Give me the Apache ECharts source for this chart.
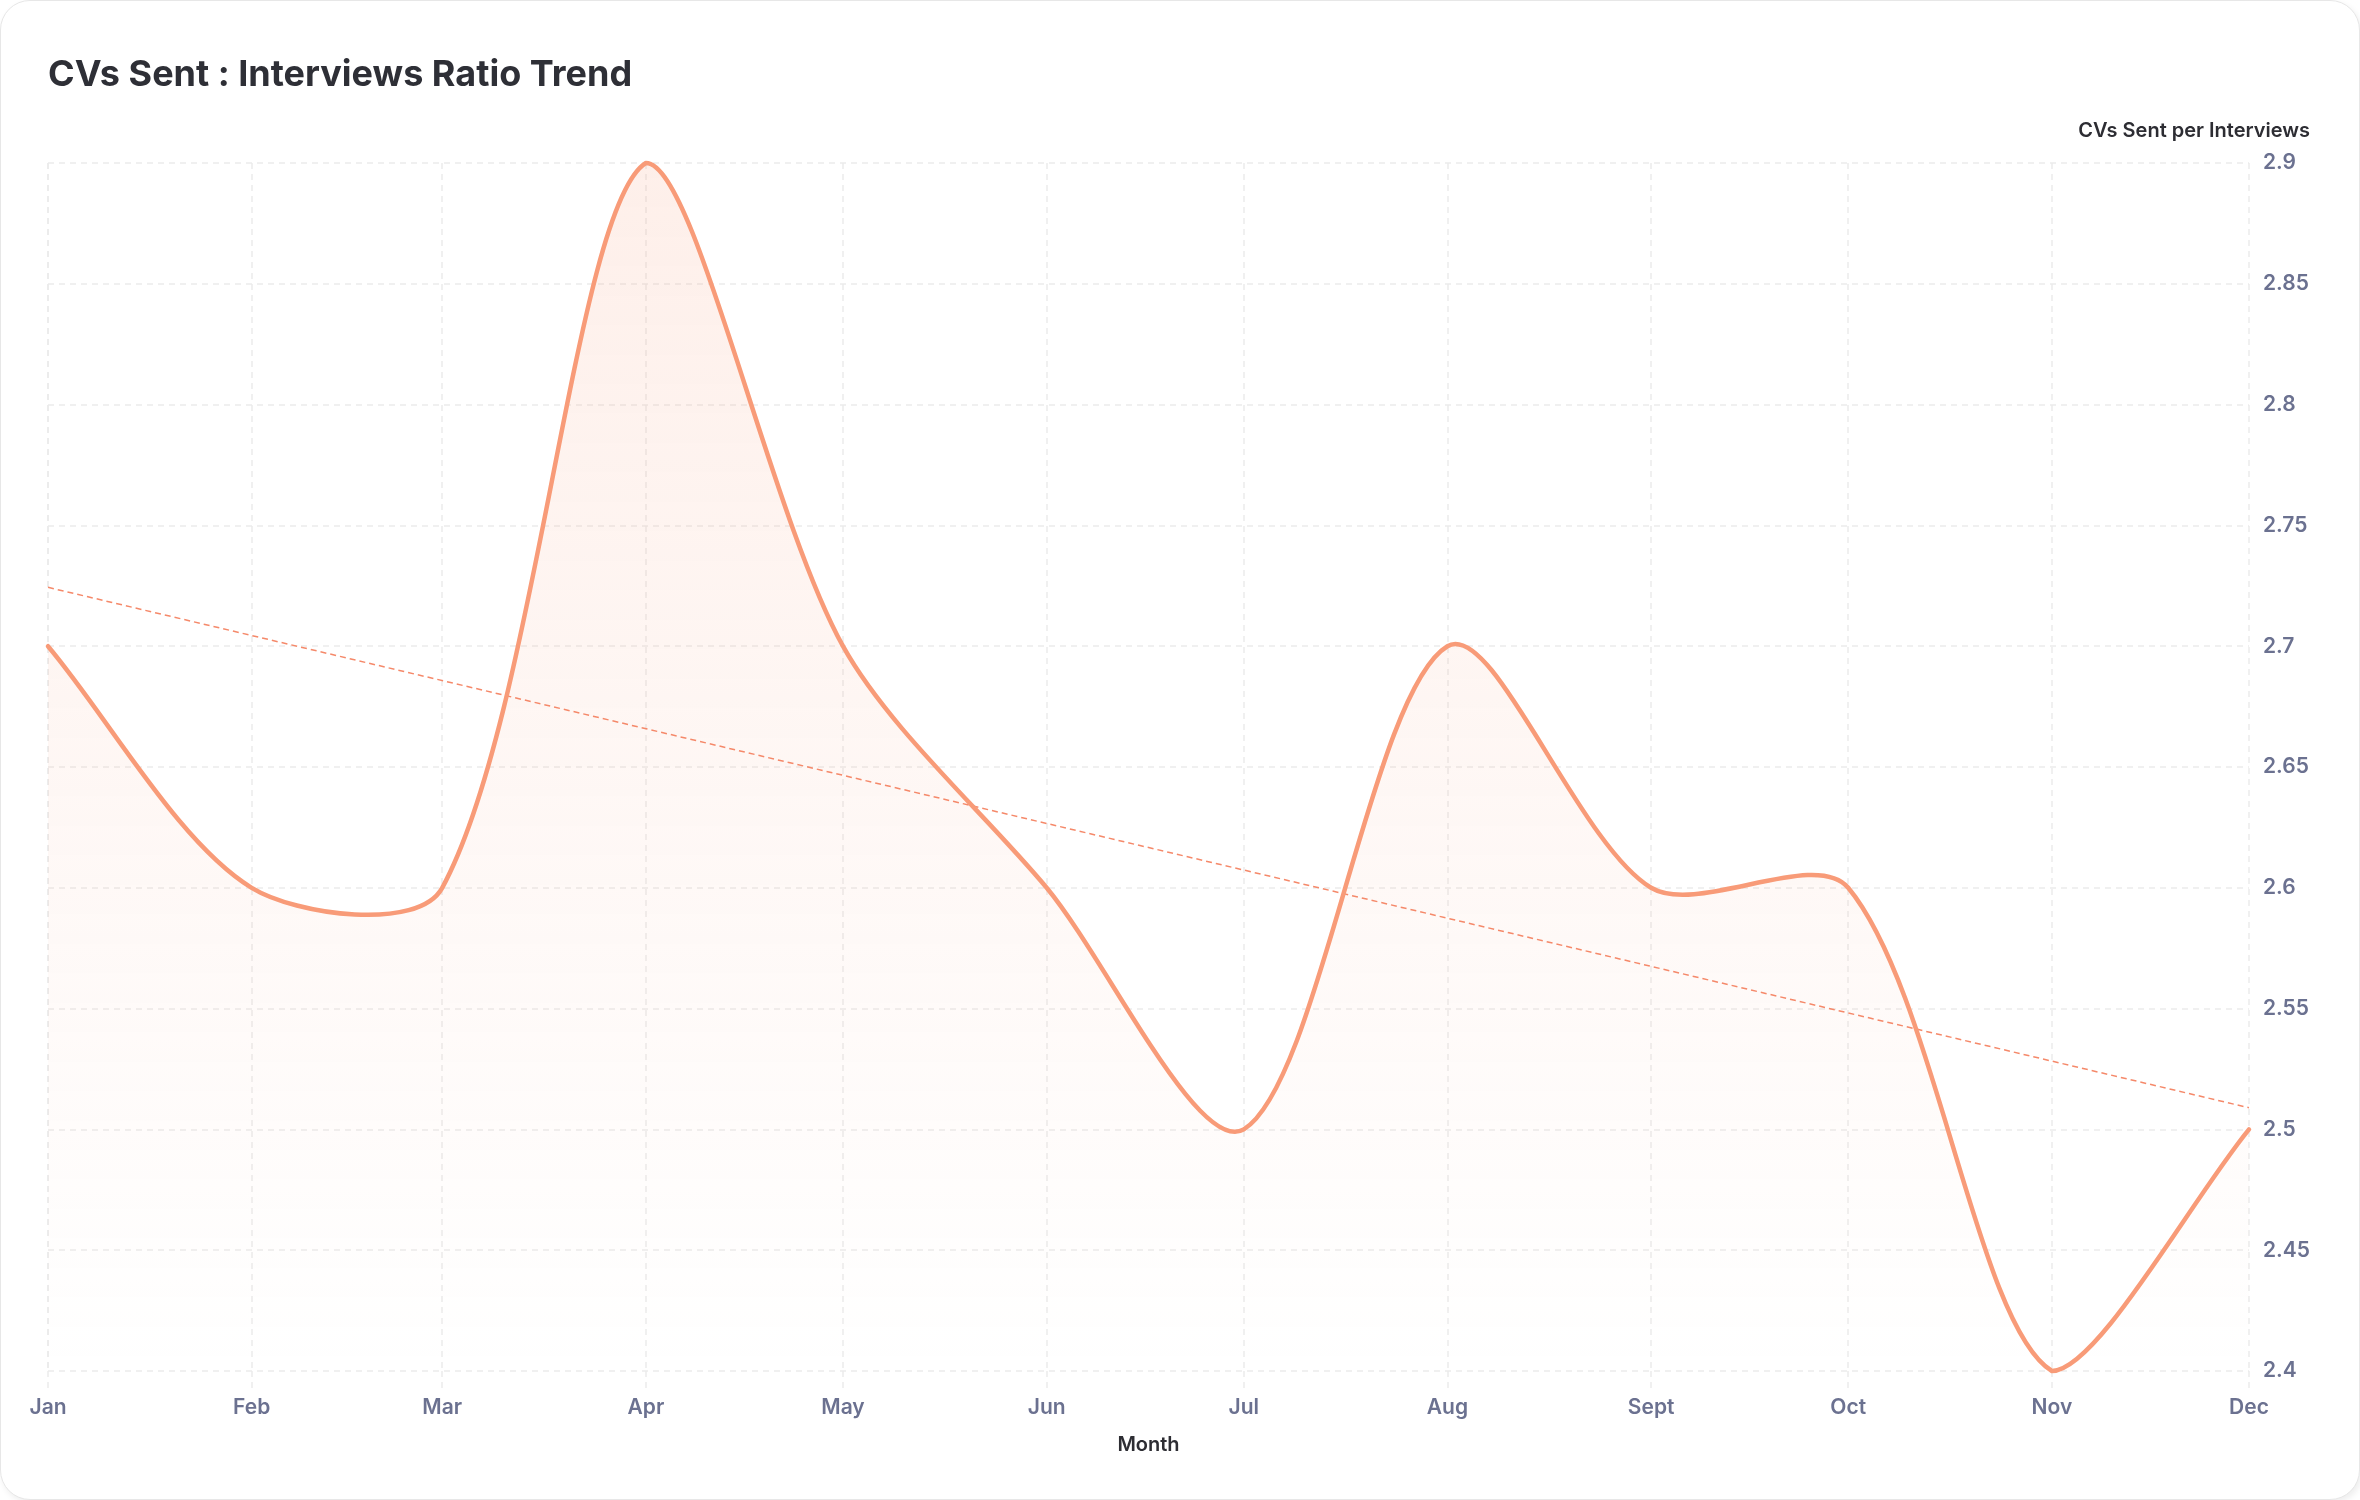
<!DOCTYPE html>
<html><head><meta charset="utf-8">
<script src="https://cdn.jsdelivr.net/npm/echarts@6/dist/echarts.min.js"></script>
<style>
html,body{margin:0;padding:0;background:#fff;}
#card{position:absolute;left:0;top:0;width:2360px;height:1500px;box-sizing:border-box;border:1px solid #e7e7e7;border-radius:30px;box-shadow:2px 3px 6px rgba(0,0,0,0.07);background:#fff;}
#chart{position:absolute;left:0;top:0;width:2360px;height:1500px;}
</style></head><body>
<div id="card"></div>
<div id="chart"></div>
<script>
const months = ['2024-01-01','2024-02-01','2024-03-01','2024-04-01','2024-05-01','2024-06-01','2024-07-01','2024-08-01','2024-09-01','2024-10-01','2024-11-01','2024-12-01'];
const monthLabels = ['Jan','Feb','Mar','Apr','May','Jun','Jul','Aug','Sept','Oct','Nov','Dec'];
const ratio = [2.7, 2.6, 2.6, 2.9, 2.7, 2.6, 2.5, 2.7, 2.6, 2.6, 2.4, 2.5];
const yMin = 2.4, yMax = 2.9, yStep = 0.05;

const toTime = s => { const [y, m, d] = s.split('-').map(Number); return new Date(y, m - 1, d).getTime(); };
const seriesData = months.map((m, i) => [toTime(m), ratio[i]]);

// linear regression trend (by month index)
const n = ratio.length;
const mx = (n - 1) / 2;
const my = ratio.reduce((a, b) => a + b, 0) / n;
let sxy = 0, sxx = 0;
ratio.forEach((v, i) => { sxy += (i - mx) * (v - my); sxx += (i - mx) * (i - mx); });
const slope = sxy / sxx;
const intercept = my - slope * mx;
const trend = [[seriesData[0][0], intercept], [seriesData[n - 1][0], intercept + slope * (n - 1)]];

const TENSION = 0.3;
const lineColor = '#f89b78';

// cardinal spline (distance weighted) through the points, in pixel space
function buildPaths(api, area) {
  const pts = seriesData.map(d => api.coord(d));
  const top = area.y, bottom = area.y + area.height;
  const clampY = y => Math.max(top, Math.min(bottom, y));
  const cps = pts.map((cur, i) => {
    const prev = pts[i - 1] || cur, next = pts[i + 1] || cur;
    const d01 = Math.hypot(cur[0] - prev[0], cur[1] - prev[1]);
    const d12 = Math.hypot(next[0] - cur[0], next[1] - cur[1]);
    const sum = d01 + d12;
    const s01 = sum ? d01 / sum : 0, s12 = sum ? d12 / sum : 0;
    const fa = TENSION * s01, fb = TENSION * s12;
    return {
      p: [cur[0] - fa * (next[0] - prev[0]), clampY(cur[1] - fa * (next[1] - prev[1]))],
      n: [cur[0] + fb * (next[0] - prev[0]), clampY(cur[1] + fb * (next[1] - prev[1]))]
    };
  });
  let d = 'M' + pts[0][0] + ' ' + pts[0][1];
  for (let i = 0; i < pts.length - 1; i++) {
    const c1 = cps[i].n, c2 = cps[i + 1].p, p = pts[i + 1];
    d += ' C' + c1[0] + ' ' + c1[1] + ' ' + c2[0] + ' ' + c2[1] + ' ' + p[0] + ' ' + p[1];
  }
  const base0 = api.coord([seriesData[0][0], yMin]);
  const base1 = api.coord([seriesData[n - 1][0], yMin]);
  const areaD = d + ' L' + base1[0] + ' ' + base1[1] + ' L' + base0[0] + ' ' + base0[1] + ' Z';
  return { line: d, area: areaD };
}

const makeRender = kind => (params, api) => {
  if (params.dataIndex !== 0) return null;
  const paths = buildPaths(api, params.coordSys);
  if (kind === 'area') {
    return {
      type: 'path', shape: { pathData: paths.area },
      style: {
        fill: new echarts.graphic.LinearGradient(0, 0, 0, 1, [
          { offset: 0, color: 'rgba(247,156,122,0.16)' },
          { offset: 1, color: 'rgba(247,156,122,0)' }
        ]),
        stroke: null
      }
    };
  }
  return {
    type: 'path', shape: { pathData: paths.line },
    style: { fill: null, stroke: lineColor, lineWidth: 4.5, lineJoin: 'round', lineCap: 'round' }
  };
};

const gridLine = { color: '#ececec', width: 1.5, type: [6, 5] };
const labelColor = '#6b7190';
const font = 'Inter, "Noto Sans", sans-serif';

const chart = echarts.init(document.getElementById('chart'), null, { renderer: 'canvas' });
chart.setOption({
  animation: false,
  title: {
    text: 'CVs Sent : Interviews Ratio Trend',
    left: 43, top: 52,
    textStyle: { fontFamily: font, fontSize: 36, fontWeight: 700, color: '#2e2f36' }
  },
  grid: { left: 48, right: 111, top: 163, bottom: 129, containLabel: false },
  xAxis: {
    type: 'time',
    min: seriesData[0][0], max: seriesData[n - 1][0],
    splitNumber: 11,
    minInterval: 28 * 864e5, maxInterval: 31 * 864e5,
    axisLine: { show: false },
    axisTick: { show: true, length: 17, lineStyle: gridLine },
    splitLine: { show: true, lineStyle: gridLine },
    axisLabel: {
      formatter: v => monthLabels[new Date(v).getMonth()],
      color: labelColor, fontSize: 21, fontWeight: 600, fontFamily: font, margin: 26,
      showMinLabel: true, showMaxLabel: true, hideOverlap: false
    },
    name: 'Month', nameLocation: 'middle', nameGap: 64,
    nameTextStyle: { fontFamily: font, fontSize: 20, fontWeight: 600, color: '#2d2d33' }
  },
  yAxis: {
    type: 'value', position: 'right',
    min: yMin, max: yMax, interval: yStep,
    axisLine: { show: false }, axisTick: { show: false },
    splitLine: { show: true, lineStyle: gridLine },
    axisLabel: { color: labelColor, fontSize: 21, fontWeight: 600, fontFamily: font, margin: 14 },
    name: 'CVs Sent per Interviews', nameLocation: 'end', nameGap: 22,
    nameTextStyle: { fontFamily: font, fontSize: 20, fontWeight: 600, color: '#2d2d33', align: 'right', padding: [0, -61, 0, 0] }
  },
  series: [
    { type: 'custom', name: 'RatioArea', data: seriesData, renderItem: makeRender('area'), z: 1, silent: true },
    {
      type: 'line', name: 'Trend', data: trend, symbol: 'none', z: 2,
      lineStyle: { color: '#f5896a', width: 1.5, type: [6, 4] }
    },
    { type: 'custom', name: 'Ratio', data: seriesData, renderItem: makeRender('line'), z: 3 }
  ]
});
</script>
</body></html>
